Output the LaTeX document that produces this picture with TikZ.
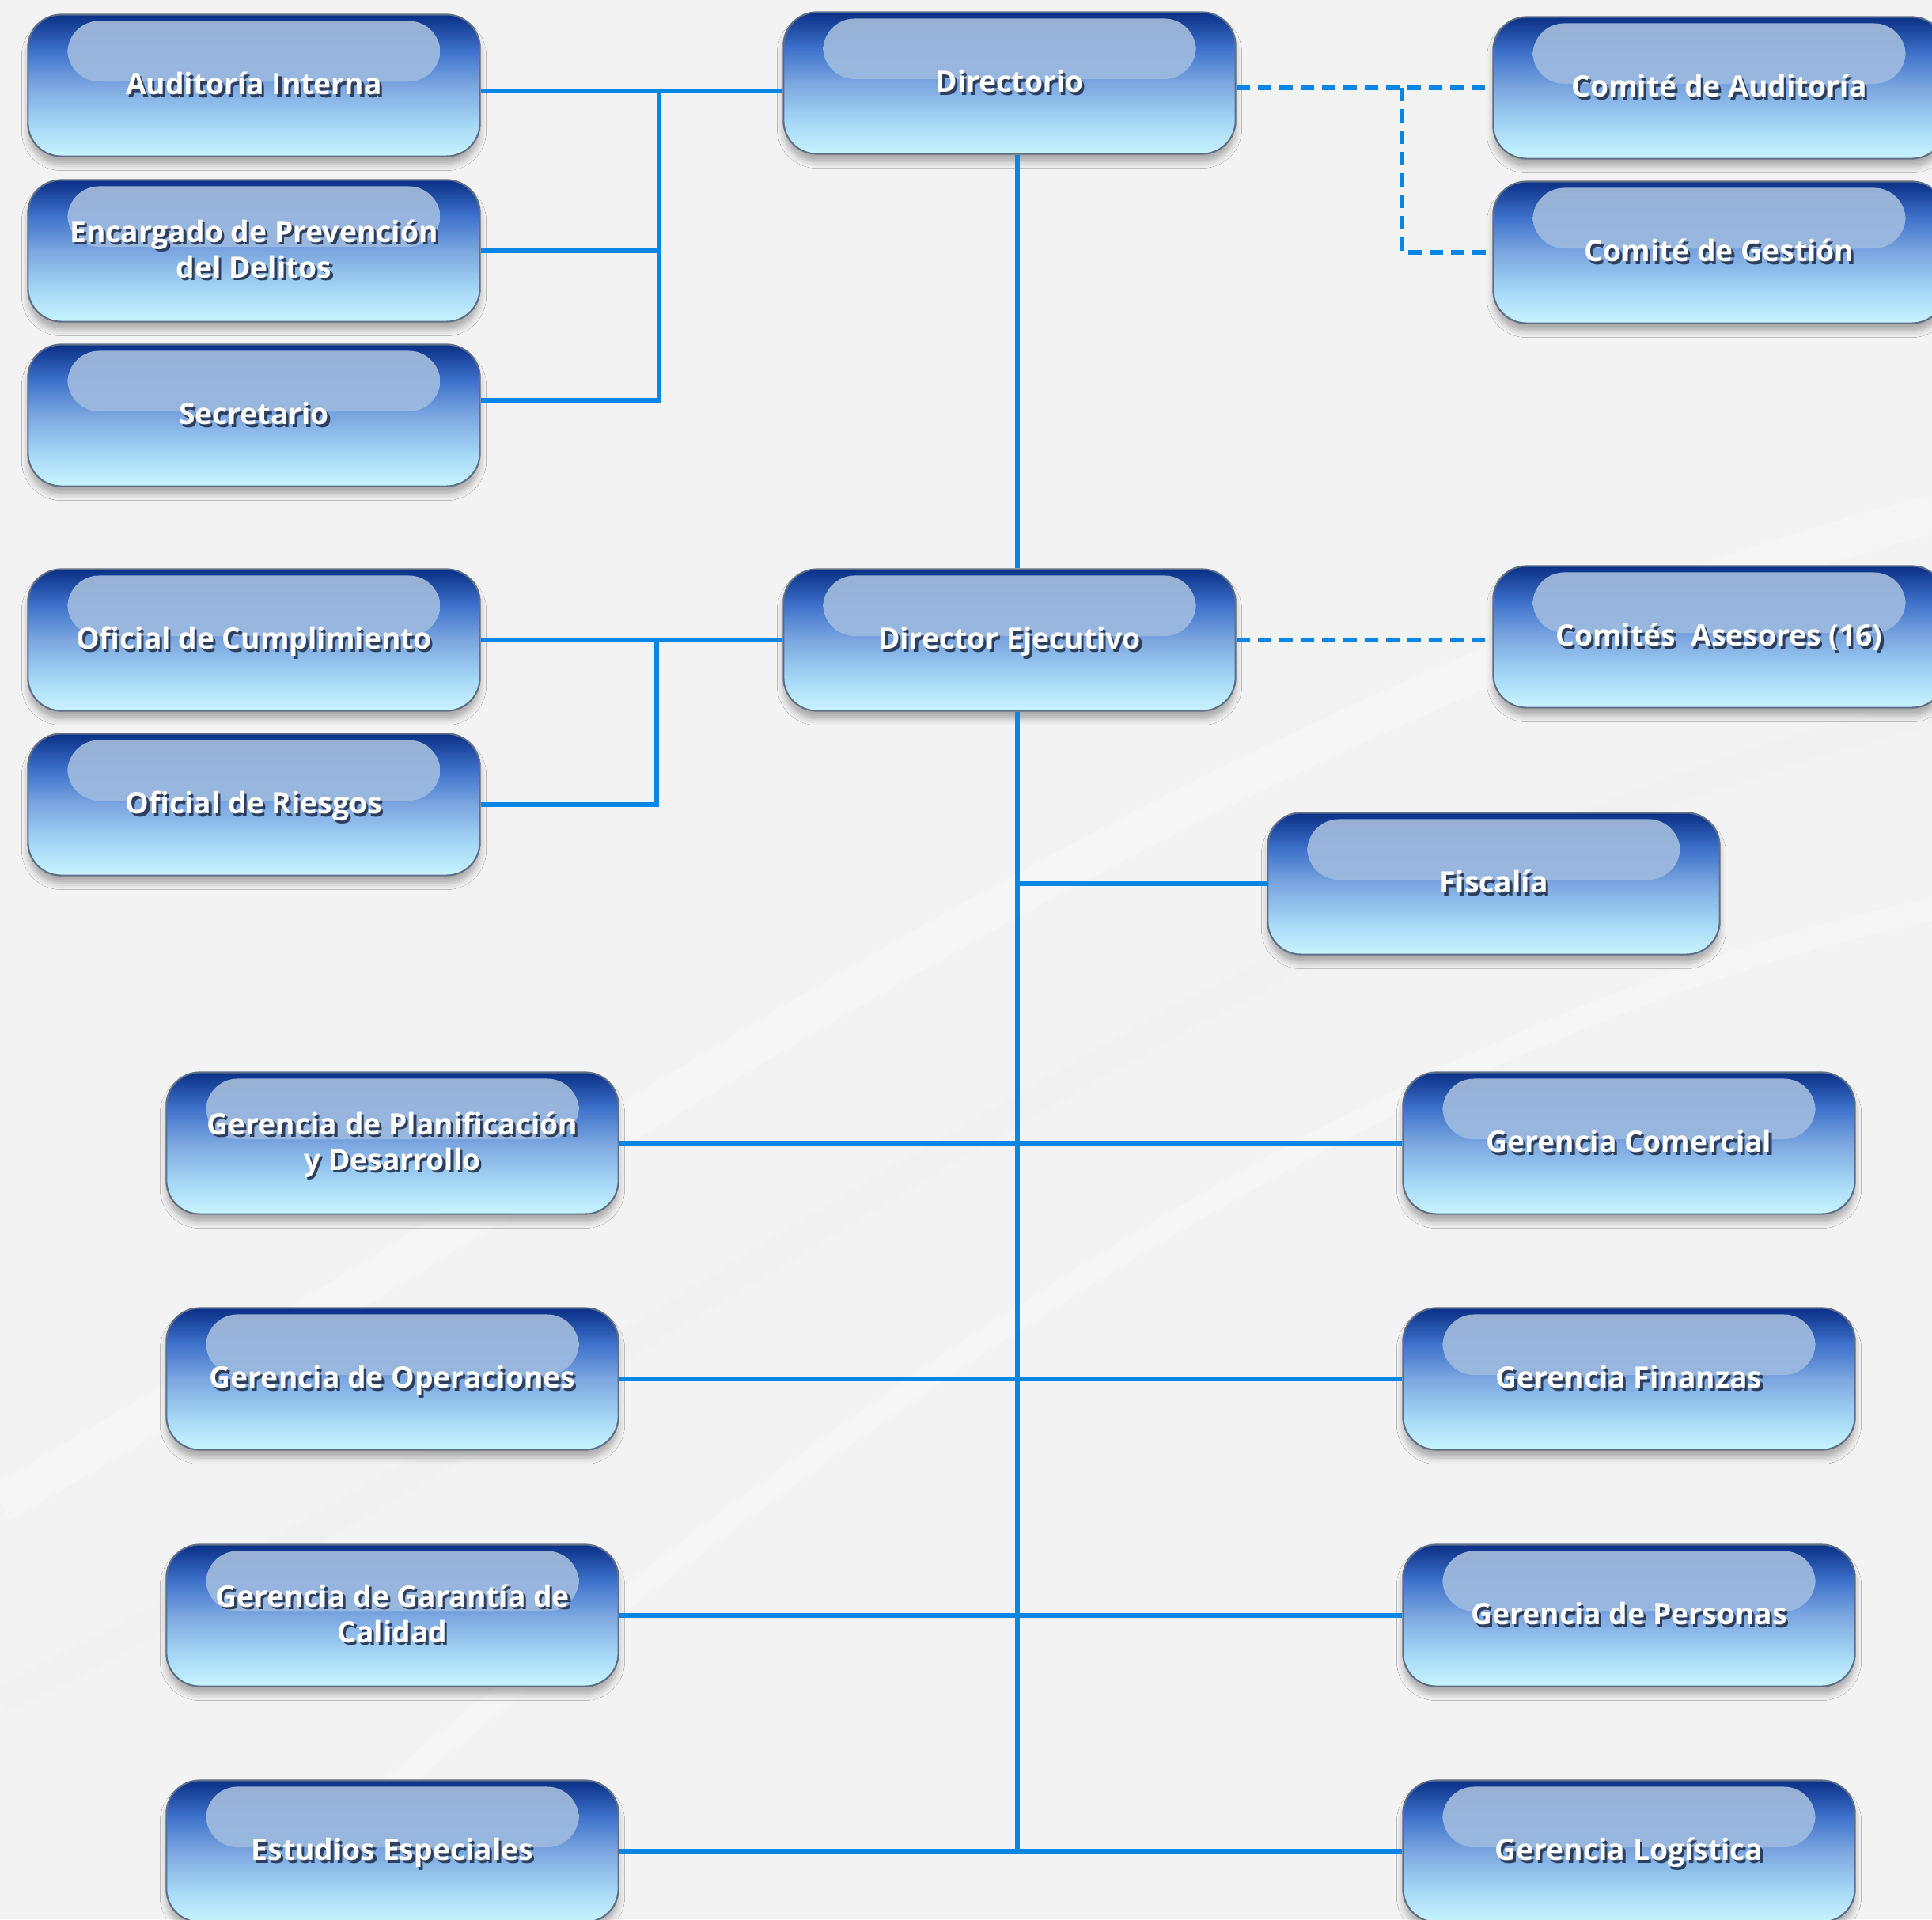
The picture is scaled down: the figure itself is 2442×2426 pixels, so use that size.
\documentclass[tikz,border=0pt]{standalone}
\usepackage{fontspec}
\setmainfont{Open Sans}
\usetikzlibrary{shadows.blur}

\definecolor{fondo}{HTML}{F3F3F3}
\definecolor{lineblue}{HTML}{0786E6}
\definecolor{boxedge}{HTML}{5F6F86}
\definecolor{txtshadow}{HTML}{2E3F5E}
\definecolor{bBot}{HTML}{C9F4FF}
\definecolor{bLow}{HTML}{A6D8F6}
\definecolor{bMid}{HTML}{7BA6E0}
\definecolor{bUp}{HTML}{3F73CC}
\definecolor{bTop}{HTML}{0A2F86}
\definecolor{hlTop}{HTML}{C8DAEA}
\definecolor{hlBot}{HTML}{7FA3D6}

\pgfdeclareverticalshading{glossy}{100bp}{color(0bp)=(bBot); color(25bp)=(bBot);
  color(36bp)=(bLow); color(50bp)=(bMid); color(62bp)=(bUp); color(75bp)=(bTop); color(100bp)=(bTop)}

\newcommand\Tab[1]{\begin{tabular}{@{}c@{}}#1\end{tabular}}
\newcommand\Lbl[1]{\raisebox{-0.8pt}[\height][\depth]{\makebox[0pt][l]{\hspace*{0.9pt}\raisebox{-1pt}[0pt][0pt]{\textcolor{txtshadow}{\Tab{#1}}}}\Tab{#1}}}

\tikzset{
  caja/.style={rounded corners=0.42cm, minimum width=5.71cm, minimum height=1.79cm,
    shading=glossy, draw=boxedge, line width=0.6pt, text=white,
    font=\fontsize{10.6}{12.8}\selectfont\bfseries,
    blur shadow={shadow xshift=0pt, shadow yshift=-0.1cm, shadow blur radius=0.08cm, shadow opacity=30},
    path picture={\shade[top color=hlTop, bottom color=hlBot, opacity=0.75, rounded corners=0.4cm]
      ([xshift=0.5cm,yshift=-0.08cm]path picture bounding box.north west) rectangle
      ([xshift=-0.5cm,yshift=0.05cm]path picture bounding box.east);}},
  linea/.style={draw=lineblue, line width=1.6pt},
  punteada/.style={linea, dash pattern=on 0.17cm off 0.10cm}
}

\begin{document}
\begin{tikzpicture}[x=0.01cm,y=-0.01cm]
  \useasboundingbox (0,0) rectangle (2442,2426);
  \clip (0,0) rectangle (2442,2426);
  \fill[fondo] (0,0) rectangle (2442,2426);
  % fondo con curvas suaves
  \draw[white, line width=14pt, opacity=0.25] (0,1900) .. controls (700,1500) and (1500,900) .. (2442,650);
  \draw[black!8, line width=10pt, opacity=0.18] (0,2150) .. controls (800,1750) and (1600,1100) .. (2442,900);
  \draw[white, line width=8pt, opacity=0.25] (300,2426) .. controls (900,1900) and (1700,1300) .. (2442,1150);

  % organismos superiores
  \node[caja] (ai) at (321,108) {\Lbl{Auditoría Interna}};
  \node[caja] (ep) at (321,317) {\Lbl{Encargado de Prevención\\del Delitos}};
  \node[caja] (sec) at (321,525) {\Lbl{Secretario}};
  \node[caja] (dir) at (1276,105) {\Lbl{Directorio}};
  \node[caja] (ca) at (2173,111) {\Lbl{Comité de Auditoría}};
  \node[caja] (cg) at (2173,319) {\Lbl{Comité de Gestión}};

  % dirección ejecutiva
  \node[caja] (oc) at (321,809) {\Lbl{Oficial de Cumplimiento}};
  \node[caja] (or) at (321,1017) {\Lbl{Oficial de Riesgos}};
  \node[caja] (de) at (1276,809) {\Lbl{Director Ejecutivo}};
  \node[caja] (cas) at (2173,805) {\Lbl{Comités\ \ Asesores (16)}};
  \node[caja] (fis) at (1888,1117) {\Lbl{Fiscalía}};

  % gerencias
  \node[caja] (gpd) at (496,1445) {\Lbl{Gerencia de Planificación\\y Desarrollo}};
  \node[caja] (gc) at (2059,1445) {\Lbl{Gerencia Comercial}};
  \node[caja] (gop) at (496,1743) {\Lbl{Gerencia de Operaciones}};
  \node[caja] (gf) at (2059,1743) {\Lbl{Gerencia Finanzas}};
  \node[caja] (ggc) at (496,2042) {\Lbl{Gerencia de Garantía de\\Calidad}};
  \node[caja] (gp) at (2059,2042) {\Lbl{Gerencia de Personas}};
  \node[caja] (ee) at (496,2340) {\Lbl{Estudios Especiales}};
  \node[caja] (gl) at (2059,2340) {\Lbl{Gerencia Logística}};

  \coordinate (b1) at (833,115);
  \coordinate (b2) at (830,809);
  \coordinate (b3) at (1772,0);
  \coordinate (spine) at (1286,0);

  % conectores
  \draw[linea] (ai.east |- b1) -- (dir.west |- b1);
  \draw[linea] (ep.east) -- (ep.east -| b1);
  \draw[linea] ([yshift=0.19cm]sec.east) -| (b1);
  \draw[linea] (oc.east) -- (de.west);
  \draw[linea] (or.east) -| (b2);
  \draw[linea] (dir.south -| spine) -- (de.north -| spine);
  \draw[linea] (de.south -| spine) -- (spine |- ee);
  \draw[linea] (spine |- fis) -- (fis.west);
  \draw[linea] (gpd.east) -- (gc.west);
  \draw[linea] (gop.east) -- (gf.west);
  \draw[linea] (ggc.east) -- (gp.west);
  \draw[linea] (ee.east) -- (gl.west);
  \draw[punteada] (dir.east |- ca.west) -- (ca.west);
  \draw[punteada] (b3 |- ca.west) |- (cg.west);
  \draw[punteada] (de.east) -- (cas.west |- de.east);
\end{tikzpicture}
\end{document}
